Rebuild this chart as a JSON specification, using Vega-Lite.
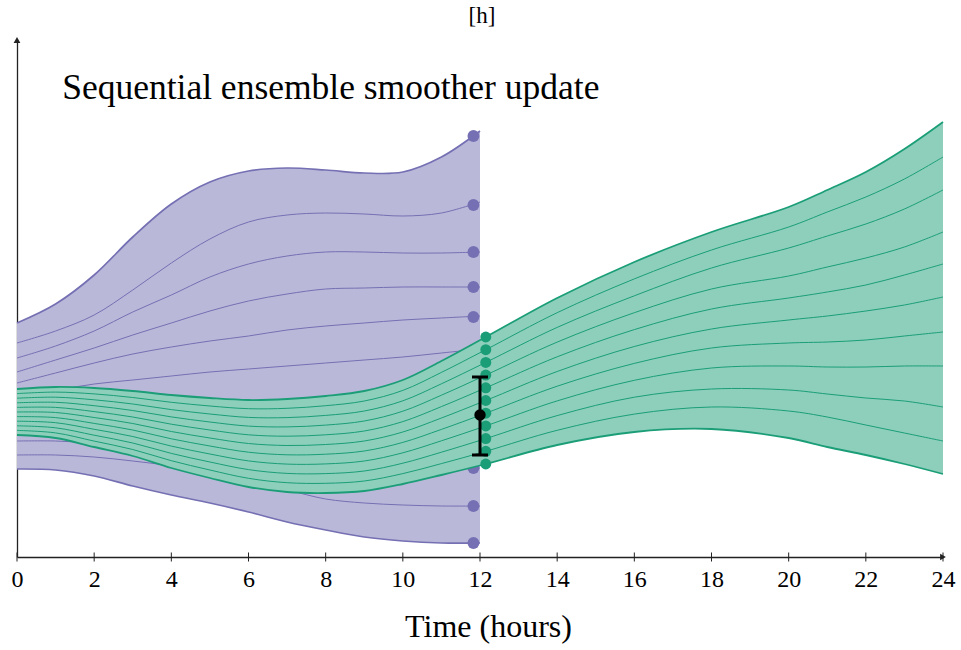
{
  "$schema": "https://vega.github.io/schema/vega-lite/v6.json",
  "width": 926,
  "height": 517,
  "autosize": {"type": "none"},
  "padding": {"left": 17, "top": 40, "right": 18, "bottom": 93},
  "config": {
    "view": {"stroke": null},
    "axis": {"grid": false, "domainColor": "#222", "domainWidth": 1.3, "labelFont": "Liberation Serif", "labelFontSize": 24, "labelColor": "black", "labelFlush": false, "titleFont": "Liberation Serif", "titleFontSize": 32, "titleFontWeight": "normal", "titleColor": "black"}
  },
  "datasets": {
    "purple": [
      {"m":1,"x":0,"y":234},{"m":1,"x":1,"y":253},{"m":1,"x":2,"y":282},{"m":1,"x":3,"y":320},{"m":1,"x":4,"y":353},{"m":1,"x":5,"y":375},{"m":1,"x":6,"y":386},{"m":1,"x":7,"y":389},{"m":1,"x":8,"y":387},{"m":1,"x":9,"y":384},{"m":1,"x":10,"y":385},{"m":1,"x":11,"y":400},{"m":1,"x":12,"y":426},
      {"m":2,"x":0,"y":214},{"m":2,"x":1,"y":226},{"m":2,"x":2,"y":242},{"m":2,"x":3,"y":267},{"m":2,"x":4,"y":294},{"m":2,"x":5,"y":318},{"m":2,"x":6,"y":335},{"m":2,"x":7,"y":342},{"m":2,"x":8,"y":344},{"m":2,"x":9,"y":343},{"m":2,"x":10,"y":341},{"m":2,"x":11,"y":344},{"m":2,"x":12,"y":355},
      {"m":3,"x":0,"y":199},{"m":3,"x":1,"y":211},{"m":3,"x":2,"y":226},{"m":3,"x":3,"y":245},{"m":3,"x":4,"y":262},{"m":3,"x":5,"y":280},{"m":3,"x":6,"y":293},{"m":3,"x":7,"y":301},{"m":3,"x":8,"y":305},{"m":3,"x":9,"y":305},{"m":3,"x":10,"y":304},{"m":3,"x":11,"y":304},{"m":3,"x":12,"y":305},
      {"m":4,"x":0,"y":185},{"m":4,"x":1,"y":197},{"m":4,"x":2,"y":209},{"m":4,"x":3,"y":222},{"m":4,"x":4,"y":234},{"m":4,"x":5,"y":246},{"m":4,"x":6,"y":256},{"m":4,"x":7,"y":263},{"m":4,"x":8,"y":268},{"m":4,"x":9,"y":269},{"m":4,"x":10,"y":270},{"m":4,"x":11,"y":270},{"m":4,"x":12,"y":270},
      {"m":5,"x":0,"y":174},{"m":5,"x":1,"y":184},{"m":5,"x":2,"y":194},{"m":5,"x":3,"y":203},{"m":5,"x":4,"y":210},{"m":5,"x":5,"y":216},{"m":5,"x":6,"y":221},{"m":5,"x":7,"y":227},{"m":5,"x":8,"y":231},{"m":5,"x":9,"y":234},{"m":5,"x":10,"y":237},{"m":5,"x":11,"y":239},{"m":5,"x":12,"y":241},
      {"m":6,"x":0,"y":163},{"m":6,"x":1,"y":167},{"m":6,"x":2,"y":173},{"m":6,"x":3,"y":177},{"m":6,"x":4,"y":181},{"m":6,"x":5,"y":185},{"m":6,"x":6,"y":188},{"m":6,"x":7,"y":191},{"m":6,"x":8,"y":194},{"m":6,"x":9,"y":197},{"m":6,"x":10,"y":200},{"m":6,"x":11,"y":204},{"m":6,"x":12,"y":208},
      {"m":7,"x":0,"y":152},{"m":7,"x":1,"y":151},{"m":7,"x":2,"y":149},{"m":7,"x":3,"y":148},{"m":7,"x":4,"y":147},{"m":7,"x":5,"y":147},{"m":7,"x":6,"y":147},{"m":7,"x":7,"y":149},{"m":7,"x":8,"y":152},{"m":7,"x":9,"y":155},{"m":7,"x":10,"y":159},{"m":7,"x":11,"y":163},{"m":7,"x":12,"y":167},
      {"m":8,"x":0,"y":135},{"m":8,"x":1,"y":134},{"m":8,"x":2,"y":132},{"m":8,"x":3,"y":129},{"m":8,"x":4,"y":127},{"m":8,"x":5,"y":126},{"m":8,"x":6,"y":125},{"m":8,"x":7,"y":125},{"m":8,"x":8,"y":125},{"m":8,"x":9,"y":126},{"m":8,"x":10,"y":126},{"m":8,"x":11,"y":127},{"m":8,"x":12,"y":127},
      {"m":9,"x":0,"y":116},{"m":9,"x":1,"y":116},{"m":9,"x":2,"y":114},{"m":9,"x":3,"y":112},{"m":9,"x":4,"y":109},{"m":9,"x":5,"y":106},{"m":9,"x":6,"y":103},{"m":9,"x":7,"y":100},{"m":9,"x":8,"y":97},{"m":9,"x":9,"y":94},{"m":9,"x":10,"y":92},{"m":9,"x":11,"y":90},{"m":9,"x":12,"y":89},
      {"m":10,"x":0,"y":102},{"m":10,"x":1,"y":102},{"m":10,"x":2,"y":100},{"m":10,"x":3,"y":96},{"m":10,"x":4,"y":91},{"m":10,"x":5,"y":83},{"m":10,"x":6,"y":74},{"m":10,"x":7,"y":67},{"m":10,"x":8,"y":58},{"m":10,"x":9,"y":54},{"m":10,"x":10,"y":52},{"m":10,"x":11,"y":51},{"m":10,"x":12,"y":51},
      {"m":11,"x":0,"y":88},{"m":11,"x":1,"y":87},{"m":11,"x":2,"y":81},{"m":11,"x":3,"y":71},{"m":11,"x":4,"y":62},{"m":11,"x":5,"y":54},{"m":11,"x":6,"y":45},{"m":11,"x":7,"y":35},{"m":11,"x":8,"y":27},{"m":11,"x":9,"y":20},{"m":11,"x":10,"y":16},{"m":11,"x":11,"y":14},{"m":11,"x":12,"y":14}
    ],
    "pdots": [
      {"m":1,"x":11.83,"y":421},{"m":2,"x":11.83,"y":352},{"m":3,"x":11.83,"y":305},{"m":4,"x":11.83,"y":270},{"m":5,"x":11.83,"y":240},{"m":6,"x":11.83,"y":207},{"m":7,"x":11.83,"y":166},{"m":8,"x":11.83,"y":127},{"m":9,"x":11.83,"y":89},{"m":10,"x":11.83,"y":51},{"m":11,"x":11.83,"y":14}
    ],
    "green": [
      {"m":1,"x":0,"y":168},{"m":1,"x":1,"y":170},{"m":1,"x":2,"y":169},{"m":1,"x":3,"y":166},{"m":1,"x":4,"y":162},{"m":1,"x":5,"y":159},{"m":1,"x":6,"y":157},{"m":1,"x":7,"y":158},{"m":1,"x":8,"y":161},{"m":1,"x":9,"y":166},{"m":1,"x":10,"y":177},{"m":1,"x":11,"y":196},{"m":1,"x":12.15,"y":220},{"m":1,"x":14,"y":259},{"m":1,"x":16,"y":295},{"m":1,"x":18,"y":325},{"m":1,"x":20,"y":350},{"m":1,"x":21,"y":367},{"m":1,"x":22,"y":385},{"m":1,"x":23,"y":408},{"m":1,"x":24,"y":435},
      {"m":2,"x":0,"y":163.4},{"m":2,"x":1,"y":164.9},{"m":2,"x":2,"y":163.1},{"m":2,"x":3,"y":159.5},{"m":2,"x":4,"y":154.7},{"m":2,"x":5,"y":151},{"m":2,"x":6,"y":148.3},{"m":2,"x":7,"y":148.7},{"m":2,"x":8,"y":151.3},{"m":2,"x":9,"y":156},{"m":2,"x":10,"y":166.6},{"m":2,"x":11,"y":184.6},{"m":2,"x":12.15,"y":207.3},{"m":2,"x":14,"y":244.3},{"m":2,"x":16,"y":278.1},{"m":2,"x":18,"y":307},{"m":2,"x":20,"y":330},{"m":2,"x":21,"y":345},{"m":2,"x":22,"y":360},{"m":2,"x":23,"y":378},{"m":2,"x":24,"y":400},
      {"m":3,"x":0,"y":158.8},{"m":3,"x":1,"y":159.8},{"m":3,"x":2,"y":157.2},{"m":3,"x":3,"y":153},{"m":3,"x":4,"y":147.4},{"m":3,"x":5,"y":143},{"m":3,"x":6,"y":139.6},{"m":3,"x":7,"y":139.4},{"m":3,"x":8,"y":141.6},{"m":3,"x":9,"y":146},{"m":3,"x":10,"y":156.2},{"m":3,"x":11,"y":173.2},{"m":3,"x":12.15,"y":194.6},{"m":3,"x":14,"y":229.6},{"m":3,"x":16,"y":261.2},{"m":3,"x":18,"y":289},{"m":3,"x":20,"y":309},{"m":3,"x":21,"y":321},{"m":3,"x":22,"y":333},{"m":3,"x":23,"y":348},{"m":3,"x":24,"y":367},
      {"m":4,"x":0,"y":154.2},{"m":4,"x":1,"y":154.7},{"m":4,"x":2,"y":151.3},{"m":4,"x":3,"y":146.5},{"m":4,"x":4,"y":140.1},{"m":4,"x":5,"y":135},{"m":4,"x":6,"y":130.9},{"m":4,"x":7,"y":130.1},{"m":4,"x":8,"y":131.9},{"m":4,"x":9,"y":136},{"m":4,"x":10,"y":145.8},{"m":4,"x":11,"y":161.8},{"m":4,"x":12.15,"y":181.9},{"m":4,"x":14,"y":214.9},{"m":4,"x":16,"y":244.3},{"m":4,"x":18,"y":268},{"m":4,"x":20,"y":281},{"m":4,"x":21,"y":290},{"m":4,"x":22,"y":299},{"m":4,"x":23,"y":310},{"m":4,"x":24,"y":325},
      {"m":5,"x":0,"y":149.6},{"m":5,"x":1,"y":149.6},{"m":5,"x":2,"y":145.4},{"m":5,"x":3,"y":140},{"m":5,"x":4,"y":132.8},{"m":5,"x":5,"y":127},{"m":5,"x":6,"y":122.2},{"m":5,"x":7,"y":120.8},{"m":5,"x":8,"y":122.2},{"m":5,"x":9,"y":126},{"m":5,"x":10,"y":135.4},{"m":5,"x":11,"y":150.4},{"m":5,"x":12.15,"y":169.2},{"m":5,"x":14,"y":200.2},{"m":5,"x":16,"y":227.4},{"m":5,"x":18,"y":248},{"m":5,"x":20,"y":259},{"m":5,"x":21,"y":265},{"m":5,"x":22,"y":272},{"m":5,"x":23,"y":282},{"m":5,"x":24,"y":293},
      {"m":6,"x":0,"y":145},{"m":6,"x":1,"y":144.5},{"m":6,"x":2,"y":139.5},{"m":6,"x":3,"y":133.5},{"m":6,"x":4,"y":125.5},{"m":6,"x":5,"y":119},{"m":6,"x":6,"y":113.5},{"m":6,"x":7,"y":111.5},{"m":6,"x":8,"y":112.5},{"m":6,"x":9,"y":116},{"m":6,"x":10,"y":125},{"m":6,"x":11,"y":139},{"m":6,"x":12.15,"y":156.5},{"m":6,"x":14,"y":185.5},{"m":6,"x":16,"y":210.5},{"m":6,"x":18,"y":228},{"m":6,"x":20,"y":237},{"m":6,"x":21,"y":241},{"m":6,"x":22,"y":246},{"m":6,"x":23,"y":252},{"m":6,"x":24,"y":260},
      {"m":7,"x":0,"y":140.4},{"m":7,"x":1,"y":139.4},{"m":7,"x":2,"y":133.6},{"m":7,"x":3,"y":127},{"m":7,"x":4,"y":118.2},{"m":7,"x":5,"y":111},{"m":7,"x":6,"y":104.8},{"m":7,"x":7,"y":102.2},{"m":7,"x":8,"y":102.8},{"m":7,"x":9,"y":106},{"m":7,"x":10,"y":114.6},{"m":7,"x":11,"y":127.6},{"m":7,"x":12.15,"y":143.8},{"m":7,"x":14,"y":170.8},{"m":7,"x":16,"y":193.6},{"m":7,"x":18,"y":209},{"m":7,"x":20,"y":214},{"m":7,"x":21,"y":215},{"m":7,"x":22,"y":217},{"m":7,"x":23,"y":221},{"m":7,"x":24,"y":225},
      {"m":8,"x":0,"y":135.8},{"m":8,"x":1,"y":134.3},{"m":8,"x":2,"y":127.7},{"m":8,"x":3,"y":120.5},{"m":8,"x":4,"y":110.9},{"m":8,"x":5,"y":103},{"m":8,"x":6,"y":96.1},{"m":8,"x":7,"y":92.9},{"m":8,"x":8,"y":93.1},{"m":8,"x":9,"y":96},{"m":8,"x":10,"y":104.2},{"m":8,"x":11,"y":116.2},{"m":8,"x":12.15,"y":131.1},{"m":8,"x":14,"y":156.1},{"m":8,"x":16,"y":176.7},{"m":8,"x":18,"y":189},{"m":8,"x":20,"y":191},{"m":8,"x":21,"y":190},{"m":8,"x":22,"y":190},{"m":8,"x":23,"y":191},{"m":8,"x":24,"y":191},
      {"m":9,"x":0,"y":131.2},{"m":9,"x":1,"y":129.2},{"m":9,"x":2,"y":121.8},{"m":9,"x":3,"y":114},{"m":9,"x":4,"y":103.6},{"m":9,"x":5,"y":95},{"m":9,"x":6,"y":87.4},{"m":9,"x":7,"y":83.6},{"m":9,"x":8,"y":83.4},{"m":9,"x":9,"y":86},{"m":9,"x":10,"y":93.8},{"m":9,"x":11,"y":104.8},{"m":9,"x":12.15,"y":118.4},{"m":9,"x":14,"y":141.4},{"m":9,"x":16,"y":159.8},{"m":9,"x":18,"y":168},{"m":9,"x":20,"y":167},{"m":9,"x":21,"y":163},{"m":9,"x":22,"y":159},{"m":9,"x":23,"y":156},{"m":9,"x":24,"y":150},
      {"m":10,"x":0,"y":126.6},{"m":10,"x":1,"y":124.1},{"m":10,"x":2,"y":115.9},{"m":10,"x":3,"y":107.5},{"m":10,"x":4,"y":96.3},{"m":10,"x":5,"y":87},{"m":10,"x":6,"y":78.7},{"m":10,"x":7,"y":74.3},{"m":10,"x":8,"y":73.7},{"m":10,"x":9,"y":76},{"m":10,"x":10,"y":83.4},{"m":10,"x":11,"y":93.4},{"m":10,"x":12.15,"y":105.7},{"m":10,"x":14,"y":126.7},{"m":10,"x":16,"y":142.9},{"m":10,"x":18,"y":150},{"m":10,"x":20,"y":146},{"m":10,"x":21,"y":140},{"m":10,"x":22,"y":132},{"m":10,"x":23,"y":124},{"m":10,"x":24,"y":116},
      {"m":11,"x":0,"y":122},{"m":11,"x":1,"y":119},{"m":11,"x":2,"y":110},{"m":11,"x":3,"y":101},{"m":11,"x":4,"y":89},{"m":11,"x":5,"y":79},{"m":11,"x":6,"y":70},{"m":11,"x":7,"y":65},{"m":11,"x":8,"y":64},{"m":11,"x":9,"y":66},{"m":11,"x":10,"y":73},{"m":11,"x":11,"y":82},{"m":11,"x":12.15,"y":93},{"m":11,"x":14,"y":112},{"m":11,"x":16,"y":125},{"m":11,"x":18,"y":128},{"m":11,"x":20,"y":119},{"m":11,"x":21,"y":110},{"m":11,"x":22,"y":102},{"m":11,"x":23,"y":93},{"m":11,"x":24,"y":83}
    ],
    "gdots": [
      {"m":1,"x":12.15,"y":220},{"m":2,"x":12.15,"y":207.3},{"m":3,"x":12.15,"y":194.6},{"m":4,"x":12.15,"y":181.9},{"m":5,"x":12.15,"y":169.2},{"m":6,"x":12.15,"y":156.5},{"m":7,"x":12.15,"y":143.8},{"m":8,"x":12.15,"y":131.1},{"m":9,"x":12.15,"y":118.4},{"m":10,"x":12.15,"y":105.7},{"m":11,"x":12.15,"y":93}
    ],
    "obs": [{"x":12,"y":142,"lo":102,"hi":180}],
    "label": [{"x":1.17,"y":458,"text":"Sequential ensemble smoother update"}],
    "toplabel": [{"x":12.05,"y":534,"text":"[h]"}],
    "ticks": [{"x":0,"y":0},{"x":2,"y":0},{"x":4,"y":0},{"x":6,"y":0},{"x":8,"y":0},{"x":10,"y":0},{"x":12,"y":0},{"x":14,"y":0},{"x":16,"y":0},{"x":18,"y":0},{"x":20,"y":0},{"x":22,"y":0},{"x":24,"y":0}],
    "arrowx": [{"x":24,"y":0}],
    "arrowy": [{"x":0,"y":517}]
  },
  "layer": [
    {
      "data": {"name": "purple"},
      "transform": [{"aggregate": [{"op": "max", "field": "y", "as": "hi"}, {"op": "min", "field": "y", "as": "lo"}], "groupby": ["x"]}],
      "mark": {"type": "area", "interpolate": "catmull-rom", "color": "#bab8d9", "opacity": 1},
      "encoding": {
        "x": {"field": "x", "type": "quantitative", "scale": {"domain": [0, 24], "nice": false, "zero": false},
              "axis": {"title": "Time (hours)", "values": [0,2,4,6,8,10,12,14,16,18,20,22,24], "tickSize": 0, "labelPadding": 10, "titlePadding": 20, "titleX": 471}},
        "y": {"field": "hi", "type": "quantitative", "scale": {"domain": [0, 517], "nice": false, "zero": false},
              "axis": {"title": null, "labels": false, "ticks": false}},
        "y2": {"field": "lo"}
      }
    },
    {
      "data": {"name": "purple"},
      "transform": [{"filter": "datum.m > 1 && datum.m < 11"}],
      "mark": {"type": "line", "interpolate": "catmull-rom", "color": "#7570b3", "strokeWidth": 1},
      "encoding": {"x": {"field": "x", "type": "quantitative"}, "y": {"field": "y", "type": "quantitative"}, "detail": {"field": "m"}}
    },
    {
      "data": {"name": "purple"},
      "transform": [{"filter": "datum.m == 1 || datum.m == 11"}],
      "mark": {"type": "line", "interpolate": "catmull-rom", "color": "#7570b3", "strokeWidth": 1.7},
      "encoding": {"x": {"field": "x", "type": "quantitative"}, "y": {"field": "y", "type": "quantitative"}, "detail": {"field": "m"}}
    },
    {
      "data": {"name": "pdots"},
      "mark": {"type": "circle", "size": 140, "color": "#7570b3", "opacity": 1},
      "encoding": {"x": {"field": "x", "type": "quantitative"}, "y": {"field": "y", "type": "quantitative"}}
    },
    {
      "data": {"name": "green"},
      "transform": [{"aggregate": [{"op": "max", "field": "y", "as": "hi"}, {"op": "min", "field": "y", "as": "lo"}], "groupby": ["x"]}],
      "mark": {"type": "area", "interpolate": "catmull-rom", "color": "#8dcfbb", "opacity": 1},
      "encoding": {"x": {"field": "x", "type": "quantitative"}, "y": {"field": "hi", "type": "quantitative"}, "y2": {"field": "lo"}}
    },
    {
      "data": {"name": "green"},
      "transform": [{"filter": "datum.m > 1 && datum.m < 11"}],
      "mark": {"type": "line", "interpolate": "catmull-rom", "color": "#1b9e77", "strokeWidth": 1},
      "encoding": {"x": {"field": "x", "type": "quantitative"}, "y": {"field": "y", "type": "quantitative"}, "detail": {"field": "m"}}
    },
    {
      "data": {"name": "green"},
      "transform": [{"filter": "datum.m == 1 || datum.m == 11"}],
      "mark": {"type": "line", "interpolate": "catmull-rom", "color": "#1b9e77", "strokeWidth": 1.8},
      "encoding": {"x": {"field": "x", "type": "quantitative"}, "y": {"field": "y", "type": "quantitative"}, "detail": {"field": "m"}}
    },
    {
      "data": {"name": "gdots"},
      "mark": {"type": "circle", "size": 120, "color": "#1b9e77", "opacity": 1},
      "encoding": {"x": {"field": "x", "type": "quantitative"}, "y": {"field": "y", "type": "quantitative"}}
    },
    {
      "data": {"name": "obs"},
      "mark": {"type": "rule", "color": "black", "strokeWidth": 3},
      "encoding": {"x": {"field": "x", "type": "quantitative"}, "y": {"field": "lo", "type": "quantitative"}, "y2": {"field": "hi"}}
    },
    {
      "data": {"name": "obs"},
      "mark": {"type": "tick", "orient": "horizontal", "color": "black", "size": 16, "thickness": 3, "opacity": 1},
      "encoding": {"x": {"field": "x", "type": "quantitative"}, "y": {"field": "lo", "type": "quantitative"}}
    },
    {
      "data": {"name": "obs"},
      "mark": {"type": "tick", "orient": "horizontal", "color": "black", "size": 16, "thickness": 3, "opacity": 1},
      "encoding": {"x": {"field": "x", "type": "quantitative"}, "y": {"field": "hi", "type": "quantitative"}}
    },
    {
      "data": {"name": "obs"},
      "mark": {"type": "circle", "size": 130, "color": "black", "opacity": 1},
      "encoding": {"x": {"field": "x", "type": "quantitative"}, "y": {"field": "y", "type": "quantitative"}}
    },
    {
      "data": {"name": "label"},
      "mark": {"type": "text", "font": "Liberation Serif", "fontSize": 35.5, "align": "left", "baseline": "alphabetic", "color": "black"},
      "encoding": {"x": {"field": "x", "type": "quantitative"}, "y": {"field": "y", "type": "quantitative"}, "text": {"field": "text"}}
    },
    {
      "data": {"name": "toplabel"},
      "mark": {"type": "text", "font": "Liberation Serif", "fontSize": 23, "align": "center", "baseline": "alphabetic", "color": "black"},
      "encoding": {"x": {"field": "x", "type": "quantitative"}, "y": {"field": "y", "type": "quantitative"}, "text": {"field": "text"}}
    },
    {
      "data": {"name": "ticks"},
      "mark": {"type": "tick", "orient": "vertical", "color": "#222", "size": 9, "thickness": 1, "opacity": 1},
      "encoding": {"x": {"field": "x", "type": "quantitative"}, "y": {"field": "y", "type": "quantitative"}}
    },
    {
      "data": {"name": "arrowx"},
      "mark": {"type": "point", "shape": "triangle-right", "filled": true, "size": 45, "color": "#222", "opacity": 1},
      "encoding": {"x": {"field": "x", "type": "quantitative"}, "y": {"field": "y", "type": "quantitative"}}
    },
    {
      "data": {"name": "arrowy"},
      "mark": {"type": "point", "shape": "triangle-up", "filled": true, "size": 45, "color": "#222", "opacity": 1},
      "encoding": {"x": {"field": "x", "type": "quantitative"}, "y": {"field": "y", "type": "quantitative"}}
    }
  ]
}
